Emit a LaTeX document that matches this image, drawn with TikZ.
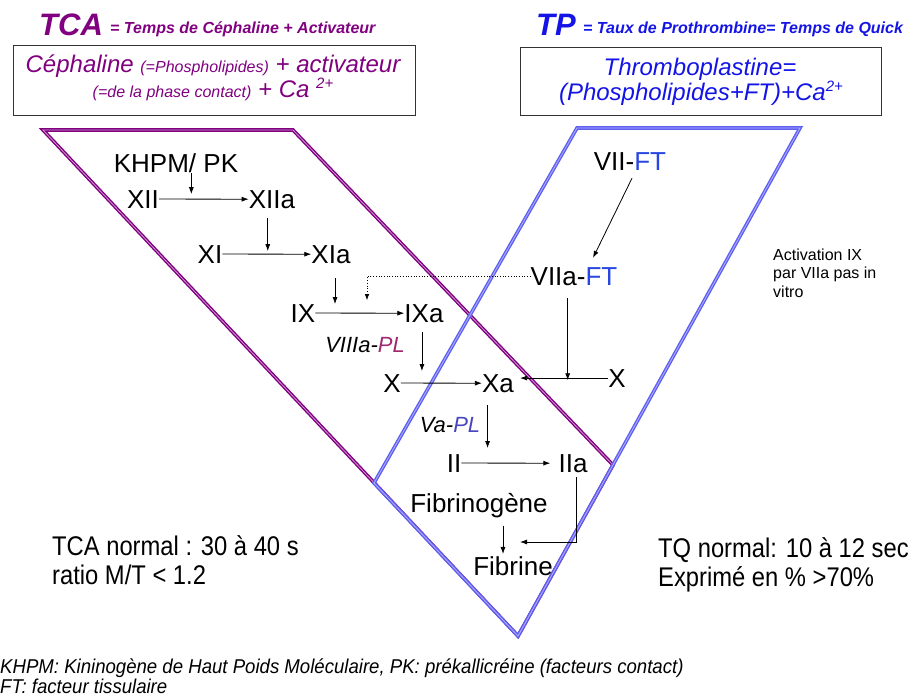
\documentclass[tikz,border=0pt]{standalone}
\usepackage{fontspec}
\setmainfont{Liberation Sans}
\newfontfamily\narrowfont[FakeStretch=0.88]{Liberation Sans}
\newfontfamily\footfont[FakeStretch=0.93]{Liberation Sans}
\usetikzlibrary{arrows.meta,calc}
\definecolor{tcapurple}{RGB}{128,0,128}
\definecolor{tpblue}{RGB}{20,20,230}
\definecolor{vblue}{RGB}{95,95,240}
\definecolor{vbluein}{RGB}{175,175,255}
\definecolor{vpurple}{RGB}{128,0,128}
\definecolor{vpurplein}{RGB}{205,150,205}
\definecolor{ftblue}{RGB}{40,70,225}
\definecolor{plpurple}{RGB}{160,40,110}
\definecolor{plblue}{RGB}{70,70,190}
\begin{document}
\begin{tikzpicture}[x=1pt,y=-1pt,
  lbl/.style={inner sep=0pt, anchor=base, font=\fontsize{26}{30}\selectfont},
  lblit/.style={inner sep=0pt, anchor=base, font=\itshape\fontsize{22}{26}\selectfont},
  arr/.style={-{Latex[length=7pt,width=5pt]}, line width=0.8pt},
  dotarr/.style={-{Latex[length=6pt,width=4.5pt]}, line width=0.7pt, dotted},
  vpur/.style={draw=vpurple, double=vpurplein, double distance=0.8pt, line width=1.4pt, line join=miter},
  vblu/.style={draw=vblue, double=vbluein, double distance=0.8pt, line width=1.4pt, line join=miter},
  infobox/.style={draw=black!80, line width=0.8pt, inner sep=0pt},
  bigtitle/.style={inner sep=0pt, anchor=base west, font=\bfseries\itshape\fontsize{31}{34}\selectfont},
  subtitle/.style={inner sep=0pt, anchor=base west, font=\bfseries\itshape\fontsize{16}{19}\selectfont},
  note/.style={inner sep=0pt, anchor=base west, font=\narrowfont\fontsize{27}{31}\selectfont},
  small/.style={inner sep=0pt, anchor=base west, font=\fontsize{16}{19}\selectfont},
  foot/.style={inner sep=0pt, anchor=base west, font=\footfont\itshape\fontsize{20}{23}\selectfont}
]
\useasboundingbox (0,0) rectangle (913,697);

% ---- V shapes
\draw[vpur] (43,130) -- (293,130) -- (613,465) -- (518,636) -- cycle;
\draw[vblu] (577,128) -- (800,128) -- (518,636) -- (374,483) -- cycle;

% ---- headers
\node[bigtitle, text=tcapurple] (tca) at (39,35) {TCA};
\node[subtitle, text=tcapurple] (tcasub) at (110,33) {= Temps de Céphaline + Activateur};
\node[bigtitle, text=tpblue] (tp) at (536,35) {TP};
\node[subtitle, text=tpblue] (tpsub) at (583,33) {= Taux de Prothrombine= Temps de Quick};

\node[infobox, minimum width=402pt, minimum height=70pt] (box1) at (214,80) {};
\node[inner sep=0pt, anchor=base, text=tcapurple, font=\itshape\fontsize{24}{28}\selectfont] (b1l1) at (213,72)
  {Céphaline {\fontsize{16}{18}\selectfont(=Phospholipides)} + activateur};
\node[inner sep=0pt, anchor=base, text=tcapurple, font=\itshape\fontsize{24}{28}\selectfont] (b1l2) at (213,97)
  {{\fontsize{16}{18}\selectfont(=de la phase contact)} + Ca \raisebox{9pt}{\fontsize{15}{17}\selectfont 2+}};

\node[infobox, minimum width=361pt, minimum height=68pt] (box2) at (700.5,81) {};
\node[inner sep=0pt, anchor=base, text=tpblue, font=\itshape\fontsize{24}{28}\selectfont] (b2l1) at (700,75) {Thromboplastine=};
\node[inner sep=0pt, anchor=base, text=tpblue, font=\itshape\fontsize{24}{28}\selectfont] (b2l2) at (701,100)
  {(Phospholipides+FT)+Ca\raisebox{9pt}{\fontsize{15}{17}\selectfont 2+}};

% ---- cascade nodes
\node[lbl] (khpm) at (176,172) {KHPM/ PK};
\node[lbl] (xii) at (143,208) {XII};
\node[lbl] (xiia) at (272,208) {XIIa};
\node[lbl] (xi) at (210,263) {XI};
\node[lbl] (xia) at (331,263) {XIa};
\node[lbl] (ix) at (303,322) {IX};
\node[lbl] (ixa) at (424,322) {IXa};
\node[lblit] (viiipl) at (365,352) {VIIIa-\textcolor{plpurple}{PL}};
\node[lbl] (xl) at (392,392) {X};
\node[lbl] (xa) at (498,392) {Xa};
\node[lbl] (xr) at (617,387) {X};
\node[lbl] (vii) at (630,170) {VII-\textcolor{ftblue}{FT}};
\node[lbl] (viia) at (574,285) {VIIa-\textcolor{ftblue}{FT}};
\node[lblit] (vapl) at (450,432) {Va-\textcolor{plblue}{PL}};
\node[lbl] (ii) at (454,472) {II};
\node[lbl] (iia) at (573,472) {IIa};
\node[lbl] (fgen) at (479,512) {Fibrinogène};
\node[lbl] (fib) at (513,575) {Fibrine};

% ---- side notes
\node[small] (act1) at (773,260) {Activation IX};
\node[small] (act2) at (773,278) {par VIIa pas in};
\node[small] (act3) at (773,297) {vitro};

\node[note] (tca1) at (52,555) {TCA normal : 30 à 40 s};
\node[note] (tca2) at (52,584) {ratio M/T < 1.2};
\node[note] (tq1) at (658,557) {TQ normal: 10 à 12 sec};
\node[note] (tq2) at (658,586) {Exprimé en \% >70\%};

\node[foot] (fn1) at (0,673) {KHPM: Kininogène de Haut Poids Moléculaire, PK: prékallicréine (facteurs contact)};
\node[foot] (fn2) at (0,693) {FT: facteur tissulaire};

% ---- connector points
\coordinate (c1) at ($(xii.east)!0.36!(xiia.west)$);
\coordinate (c2) at ($(xi.east)!0.51!(xia.west)$);
\coordinate (c3a) at ($(ix.east)!0.22!(ixa.west)$);
\coordinate (c3b) at ($(ix.east)!0.58!(ixa.west)$);
\coordinate (c4) at ($(xl.east)!0.26!(xa.west)$);
\coordinate (c5) at ($(xr.west)!0.43!(xa.east)$);
\coordinate (c6) at ($(ii.east)!0.27!(iia.west)$);
\coordinate (fmid) at (503,542);

% ---- connectors
\draw[arr] (xii.east) -- (xiia.west);
\draw[arr] (xi.east) -- (xia.west);
\draw[arr] (ix.east) -- (ixa.west);
\draw[arr] (xl.east) -- (xa.west);
\draw[arr, shorten >=8pt] (ii.east) -- (iia.west);
\draw[arr, shorten >=6pt] (xr.west) -- (xr.west -| xa.east);

\draw[arr, shorten <=1pt, shorten >=5pt] (khpm.south -| c1) -- (c1);
\draw[arr, shorten <=10pt, shorten >=3pt] (xiia.south -| c2) -- (c2);
\draw[arr, shorten <=15pt, shorten >=9pt] (xia.south -| c3a) -- (c3a);
\draw[dotarr, shorten >=13pt] (viia.west) -| (c3b);
\draw[arr, shorten <=10pt, shorten >=12pt] (ixa.south -| c4) -- (c4);
\draw[arr, shorten <=13pt] (viia.south -| c5) -- (c5);
\draw[arr] ($(vii.south)+(2,8)$) -- ($(viia.north)+(19,-9)$);
\draw[arr, shorten <=13pt, shorten >=15pt] (xa.south -| c6) -- (c6);
\draw[arr, shorten >=17pt] ($(iia.south)+(3,5)$) |- (fmid);
\draw[arr, shorten <=8pt, shorten >=2pt] (fgen.south -| fmid) -- (fmid |- fib.north);
\end{tikzpicture}
\end{document}
